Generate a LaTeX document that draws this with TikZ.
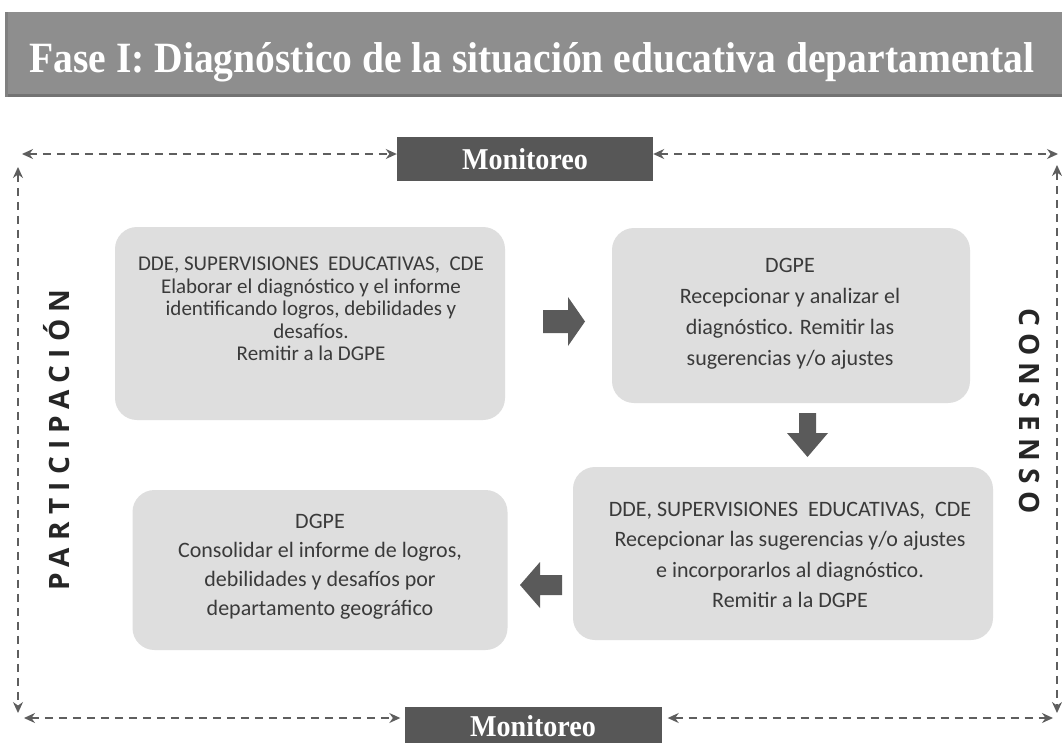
\documentclass[tikz,border=0pt]{standalone}
\usepackage{fontspec}
\setmainfont{Carlito}
\newfontfamily\titlefont{Liberation Serif}
\newfontfamily\sidefont{Open Sans}[LetterSpace=26]
\usetikzlibrary{arrows.meta,calc}
\definecolor{boxgray}{HTML}{DEDEDE}
\definecolor{txtgray}{HTML}{3A3A3A}
\definecolor{bannergray}{HTML}{8E8E8E}
\definecolor{mongray}{HTML}{575757}
\definecolor{dashgray}{HTML}{5E5E5E}
\definecolor{arrowgray}{HTML}{5A5A5A}
\begin{document}
\begin{tikzpicture}[x=1pt,y=-1pt,
  banner/.style={fill=bannergray, draw=none, inner sep=0pt},
  monbox/.style={fill=mongray, draw=none, inner sep=0pt, text=white},
  procbox/.style={fill=boxgray, draw=none, rounded corners=22pt, inner sep=0pt},
  proctext/.style={text=txtgray, align=center, inner sep=0pt},
  sidetext/.style={text=black!85, inner sep=0pt, font=\sidefont\bfseries\fontsize{28}{32}\selectfont},
  dashline/.style={draw=dashgray, line width=1.5pt, dash pattern=on 8pt off 6pt,
     {Stealth[length=11pt,width=10pt,fill=dashgray]}-{Stealth[length=11pt,width=10pt,fill=dashgray]}},
  blockarrow/.style={fill=arrowgray, draw=none}
]
\useasboundingbox (0,0) rectangle (1062,742);
\fill[white] (0,0) rectangle (1062,742);

% banner
\node[banner, minimum width=1058pt, minimum height=85pt] (title) at (534,54.5) {};
\fill[black!55] (5,94) rectangle (1063,97);
\fill[black!50] (5,12) rectangle (8,97);
\node[inner sep=0pt, text=white, anchor=base] (titletext) at (532,72)
  {\resizebox{1005pt}{30pt}{\titlefont\bfseries Fase I: Diagnóstico de la situación educativa departamental}};

% monitoreo boxes
\node[monbox, minimum width=256pt, minimum height=44pt] (mtop) at (525,159)
  {\resizebox{126pt}{21pt}{\titlefont\bfseries Monitoreo}};
\node[monbox, minimum width=257pt, minimum height=46pt] (mbot) at (533,730)
  {\raisebox{9pt}{\resizebox{126pt}{21pt}{\titlefont\bfseries Monitoreo}}};

% frame corner coordinates
\coordinate (tlh) at (22,154);
\coordinate (trh) at (1058,154);
\coordinate (tlv) at (18,167);
\coordinate (blv) at (18,713);
\coordinate (trv) at (1057,165);
\coordinate (brv) at (1057,713);
\coordinate (blh) at (24,718);
\coordinate (brh) at (1053,718);

\draw[dashline] (tlh) -- (tlh -| mtop.west);
\draw[dashline] (tlh -| mtop.east) -- (trh);
\draw[dashline] (tlv) -- (blv);
\draw[dashline] (trv) -- (brv);
\draw[dashline] (blh) -- ($(blh -| mbot.west)+(-4,0)$);
\draw[dashline] ($(brh -| mbot.east)+(6,0)$) -- (brh);

% side labels
\node[sidetext, rotate=90] (part) at (57,440) {PARTICIPACIÓN};
\node[sidetext, rotate=-90] (cons) at (1029,411) {CONSENSO};

% process boxes
\node[procbox, minimum width=390pt, minimum height=193pt] (b1) at (310,323.5) {};
\node[procbox, minimum width=358pt, minimum height=175pt] (b2) at (791,315.5) {};
\node[procbox, minimum width=420pt, minimum height=173pt] (b3) at (783,553.5) {};
\node[procbox, minimum width=375pt, minimum height=160pt] (b4) at (320,570) {};

\node[proctext, font=\fontsize{21}{22.5}\selectfont] (t1) at (311,309)
  {DDE, SUPERVISIONES~~EDUCATIVAS,~~CDE\\Elaborar el diagnóstico y el informe\\identificando logros, debilidades y\\desafíos.\\Remitir a la DGPE};
\node[proctext, font=\fontsize{22}{31}\selectfont] (t2) at (790,314)
  {DGPE\\Recepcionar y analizar el\\diagnóstico. Remitir las\\sugerencias y/o ajustes};
\node[proctext, font=\fontsize{22}{30.5}\selectfont] (t3) at (790,555)
  {DDE, SUPERVISIONES~~EDUCATIVAS,~~CDE\\Recepcionar las sugerencias y/o ajustes\\e incorporarlos al diagnóstico.\\Remitir a la DGPE};
\node[proctext, font=\fontsize{22}{29}\selectfont] (t4) at (320,567)
  {DGPE\\Consolidar el informe de logros,\\debilidades y desafíos por\\departamento geográfico};

% block arrows (connectors between the boxes)
\coordinate (a12) at (543,321.5);
\coordinate (a23) at (807.5,413);
\coordinate (a34) at (562,585);
\fill[blockarrow] (a12) ++(0,-11.5) -- ++(25,0) -- ++(0,-13) -- ++(17,24.5) -- ++(-17,24.5) -- ++(0,-13) -- ++(-25,0) -- cycle;
\fill[blockarrow] (a23) ++(-8.5,0) -- ++(0,20) -- ++(-12,0) -- ++(20.5,24) -- ++(20.5,-24) -- ++(-12,0) -- ++(0,-20) -- cycle;
\fill[blockarrow] (a34) ++(0,-10) -- ++(-22,0) -- ++(0,-13) -- ++(-20,23) -- ++(20,23) -- ++(0,-13) -- ++(22,0) -- cycle;
\end{tikzpicture}
\end{document}
